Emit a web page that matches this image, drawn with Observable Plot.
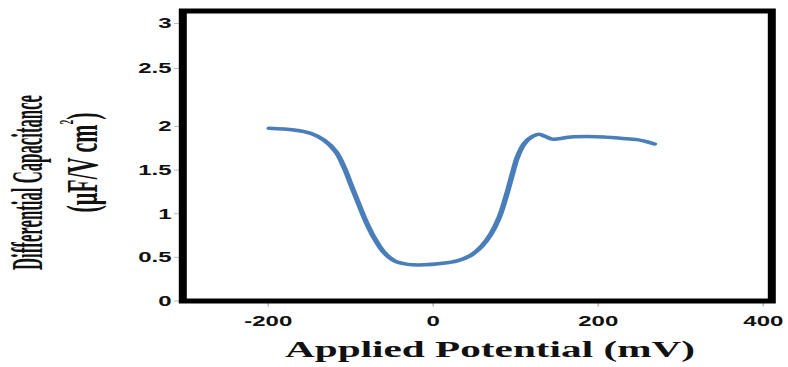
<!DOCTYPE html>
<html><head><meta charset="utf-8">
<script src="https://cdn.jsdelivr.net/npm/d3@7"></script>
<script src="https://cdn.jsdelivr.net/npm/@observablehq/plot@0.6"></script>
<style>html,body{margin:0;padding:0;background:#fff;overflow:hidden}</style>
</head><body><div id="chart"></div>
<script>
// Data
const potential = [-199,-169,-148,-132,-118,-108,-100,-92,-82,-72,-60,-47,-31,-11,9,29,45,58,70,80,88,96,102,110,120,128,136,144,152,167,187,207,227,247,257,268];
const capacitance = [1.98,1.96,1.92,1.84,1.71,1.53,1.34,1.15,0.92,0.73,0.56,0.46,0.42,0.415,0.43,0.46,0.52,0.62,0.77,0.96,1.19,1.46,1.65,1.80,1.885,1.91,1.885,1.855,1.86,1.88,1.885,1.88,1.865,1.85,1.83,1.80];
const xTicks = [-200, 0, 200, 400];
const yTicks = [0, 0.5, 1, 1.5, 2, 2.5, 3];
const xTitle = "Applied Potential (mV)";
const yTitle1 = "Differential Capacitance";
const yTitle2a = "(µF/V cm";
const yTitle2sup = "2";
const yTitle2b = ")";

const rows = potential.map((p, i) => ({p, c: capacitance[i]}));

const S = 1.6;            // horizontal stretch of the reference picture
const W = 788 / S;
const H = 367;

const tickFont = "Liberation Sans, Arial, sans-serif";
const plot = Plot.plot({
  width: W,
  height: H,
  marginLeft: 113.75,
  marginRight: W - 481.875,
  marginTop: 10.5,
  marginBottom: H - 300.5,
  style: {background: "white", overflow: "visible"},
  x: {type: "linear", domain: [-303.6, 410.3], label: null},
  y: {type: "linear", domain: [0, 2, 2.5, 3], range: [300.5, 126, 68, 23], label: null},
  marks: [
    Plot.line(rows, {x: "p", y: "c", stroke: "#4a7ebb", strokeWidth: 3.5, curve: "catmull-rom"}),
    Plot.axisX({ticks: xTicks, tickFormat: d => String(d), tickSize: 6, tickPadding: 8.5,
      stroke: "#bbb", fill: "#111", fontSize: 15, fontWeight: "bold", fontFamily: tickFont, label: null}),
    Plot.axisY({ticks: yTicks, tickFormat: d => String(d), tickSize: 5, tickPadding: 2,
      stroke: "#bbb", fill: "#111", fontSize: 15, fontWeight: "bold", fontFamily: tickFont, label: null}),
    Plot.frame({stroke: "black", strokeWidth: 5})
  ]
});

const svg = d3.select(plot);
svg.attr("width", 788).attr("height", H).attr("preserveAspectRatio", "none")
   .style("width", "788px").style("height", H + "px").style("max-width", "none");

const serif = "Liberation Serif, Times New Roman, serif";
svg.append("text")
  .attr("x", 490 / S).attr("y", 357)
  .attr("text-anchor", "middle")
  .attr("font-family", serif).attr("font-weight", "bold").attr("font-size", 23.5)
  .attr("fill", "#111")
  .attr("textLength", 410 / S).attr("lengthAdjust", "spacingAndGlyphs")
  .text(xTitle);

svg.append("text")
  .attr("transform", `translate(${42 / S},182.5) rotate(-90)`)
  .attr("text-anchor", "middle")
  .attr("font-family", serif).attr("font-weight", "bold").attr("font-size", 27.5)
  .attr("fill", "#111")
  .attr("textLength", 175).attr("lengthAdjust", "spacingAndGlyphs")
  .text(yTitle1);

const t2 = svg.append("text")
  .attr("transform", `translate(${97 / S},162.5) rotate(-90)`)
  .attr("text-anchor", "middle")
  .attr("font-family", serif).attr("font-weight", "bold").attr("font-size", 27.5)
  .attr("fill", "#111")
  .attr("textLength", 100).attr("lengthAdjust", "spacingAndGlyphs");
t2.append("tspan").text(yTitle2a);
t2.append("tspan").attr("dy", -15).attr("font-size", 12).text(yTitle2sup);
t2.append("tspan").attr("dy", 15).text(yTitle2b);

document.getElementById("chart").appendChild(plot);
</script>
</body></html>
